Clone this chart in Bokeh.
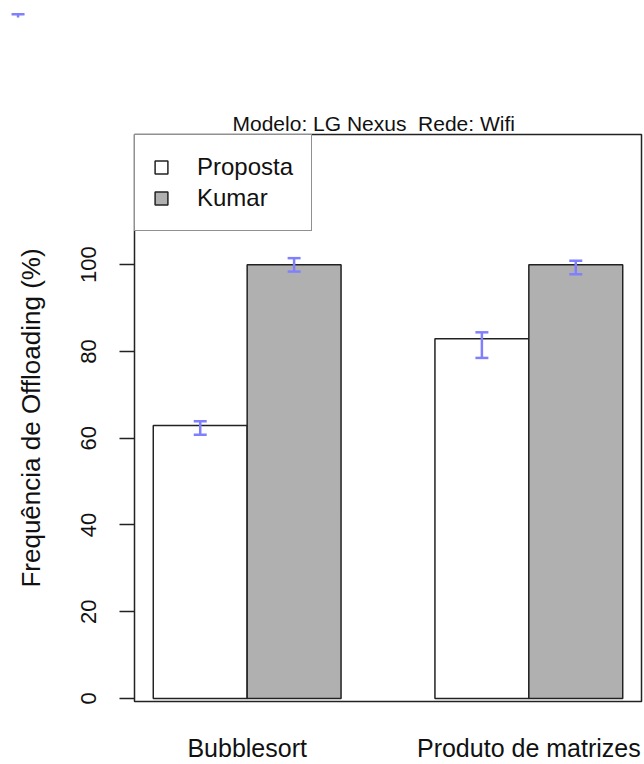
from bokeh.plotting import figure
from bokeh.models import (Range1d, FixedTicker, Legend, LegendItem, Whisker,
                          ColumnDataSource, TeeHead)
from bokeh.layouts import column, row
from bokeh.embed import file_html
from bokeh.resources import INLINE

# ---------------- data ----------------
categories = ["Bubblesort", "Produto de matrizes"]
series = ["Proposta", "Kumar"]
proposta = [62.9, 82.9]
kumar = [100.0, 100.0]
proposta_lower = [60.8, 78.5]
proposta_upper = [63.9, 84.4]
kumar_lower = [98.4, 97.8]
kumar_upper = [101.5, 100.9]
y_ticks = [0, 20, 40, 60, 80, 100]
title_text = "Modelo: LG Nexus\u00a0 Rede: Wifi"
y_label = "Frequência de Offloading (%)"
# stray error-bar cap that the original drew outside the plot region
stray_x = [-0.44]
stray_upper = [157.7]
stray_lower = [157.0]

FONT = "Liberation Sans"
EDGE = "#222222"
ERR = "#8080FF"
GRAY = "#B0B0B0"

# R barplot(beside=TRUE) positions: bar width 1, space c(0, 1)
n = len(categories)
x_prop = [1.5 + 3 * i for i in range(n)]
x_kumar = [2.5 + 3 * i for i in range(n)]
group_centers = [2 + 3 * i for i in range(n)]

# ---------------- strip above the plot holding the stray mark ----------------
top = figure(width=644, height=30, x_range=Range1d(-0.627, 6.232),
             y_range=Range1d(153.98, 160.9), output_backend="svg",
             toolbar_location=None, x_axis_location=None, y_axis_location=None,
             min_border=0)
top.outline_line_color = None
top.xgrid.visible = False
top.ygrid.visible = False
stray_src = ColumnDataSource(dict(x=stray_x, upper=stray_upper, lower=stray_lower))
top.add_layout(Whisker(base="x", upper="upper", lower="lower", source=stray_src,
                       level="overlay", line_color=ERR, line_width=2.5, lower_head=None,
                       upper_head=TeeHead(size=13, line_color=ERR, line_width=2.5)))

# ---------------- main plot ----------------
p = figure(width=644, height=734, x_range=Range1d(0.8, 6.2),
           y_range=Range1d(-0.7, 130), output_backend="svg",
           toolbar_location=None, min_border_left=134, min_border_right=3,
           min_border_top=104, min_border_bottom=63, title=title_text)
p.background_fill_color = "white"
p.border_fill_color = "white"
p.outline_line_color = EDGE
p.outline_line_width = 1.5
p.xgrid.visible = False
p.ygrid.visible = False

p.title.align = "left"
p.title.offset = 98
p.title.standoff = 0
p.title.text_font = FONT
p.title.text_font_size = "21px"
p.title.text_font_style = "normal"
p.title.text_color = "#111111"

r1 = p.vbar(x=x_prop, top=proposta, bottom=0, width=1, fill_color="white",
            line_color=EDGE, line_width=1.5)
r2 = p.vbar(x=x_kumar, top=kumar, bottom=0, width=1, fill_color=GRAY,
            line_color=EDGE, line_width=1.5)

err_src = ColumnDataSource(dict(x=x_prop + x_kumar,
                                lower=proposta_lower + kumar_lower,
                                upper=proposta_upper + kumar_upper))
p.add_layout(Whisker(base="x", upper="upper", lower="lower", source=err_src,
                     level="annotation", line_color=ERR, line_width=2.5,
                     upper_head=TeeHead(size=13, line_color=ERR, line_width=2.5),
                     lower_head=TeeHead(size=13, line_color=ERR, line_width=2.5)))

# x axis: group names
p.xaxis.ticker = FixedTicker(ticks=group_centers)
p.xaxis.major_label_overrides = {c: name for c, name in zip(group_centers, categories)}
p.xaxis.major_tick_line_color = None
p.xaxis.minor_tick_line_color = None
p.xaxis.axis_line_color = None
p.xaxis.major_label_standoff = 26
p.xaxis.major_label_text_font = FONT
p.xaxis.major_label_text_font_size = "25px"
p.xaxis.major_label_text_color = "#111111"

# y axis
p.yaxis.ticker = FixedTicker(ticks=y_ticks)
p.yaxis.minor_tick_line_color = None
p.yaxis.major_tick_out = 15
p.yaxis.major_tick_in = 0
p.yaxis.major_tick_line_width = 1.5
p.yaxis.major_tick_line_color = EDGE
p.yaxis.axis_line_color = None
p.yaxis.major_label_orientation = "vertical"
p.yaxis.major_label_standoff = 23
p.yaxis.major_label_text_font = FONT
p.yaxis.major_label_text_font_size = "22px"
p.yaxis.major_label_text_color = "#111111"
p.yaxis.axis_label = y_label
p.yaxis.axis_label_standoff = 33
p.yaxis.axis_label_text_font = FONT
p.yaxis.axis_label_text_font_size = "26px"
p.yaxis.axis_label_text_font_style = "normal"
p.yaxis.axis_label_text_color = "#111111"

legend = Legend(items=[LegendItem(label=series[0], renderers=[r1]),
                       LegendItem(label=series[1], renderers=[r2])],
                location="top_left", margin=0, padding=18, spacing=3,
                glyph_width=16, glyph_height=16, label_standoff=28,
                label_text_font=FONT, label_text_font_size="24px",
                label_text_color="#111111",
                border_line_color=EDGE, border_line_width=1.5,
                background_fill_color="white", background_fill_alpha=1)
p.add_layout(legend)

open("out.html", "w").write(file_html(column(row(top), p), INLINE))
